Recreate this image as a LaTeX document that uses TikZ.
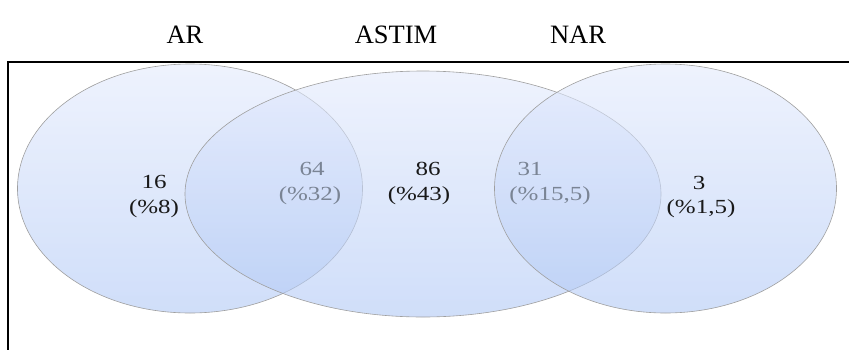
\documentclass[tikz,border=0pt]{standalone}
\usepackage{fontspec}
\setmainfont{Liberation Serif}
\begin{document}
\begin{tikzpicture}[x=1pt,y=-1pt,
  setname/.style={font=\fontsize{26.5}{30}\selectfont, inner sep=0pt},
  count/.style={font=\fontsize{20}{26}\selectfont, inner sep=0pt, xscale=1.25, text=black!90},
  shared/.style={count, text=sharedtext},
  blob/.style={draw=gray!75, line width=0.6pt, top color=venntop, bottom color=vennbot, fill opacity=0.6, draw opacity=1}
]
\definecolor{venntop}{HTML}{E3EAFC}
\definecolor{vennbot}{HTML}{B0C8F5}
\definecolor{sharedtext}{HTML}{7A8494}
\useasboundingbox (0,0) rectangle (849,349);
\begin{scope}
\clip (0,0) rectangle (849,349);
% outer frame (only top and left edges fall inside the page)
\draw[line width=2.2pt] (8,62) rectangle (900,400);
% the three sets
\shade[blob] (190,188.5) ellipse [x radius=172.5, y radius=124.5];
\shade[blob] (423,194) ellipse [x radius=238, y radius=123];
\shade[blob] (665.5,188.5) ellipse [x radius=171, y radius=124.5];
\end{scope}
% set titles
\node[setname] (ar) at (185,35) {AR};
\node[setname] (astim) at (396,35) {ASTIM};
\node[setname] (nar) at (578,35) {NAR};
% region counts
\node[count] (c16) at (154,182) {16};
\node[count] (p16) at (154,209) {(\%8)};
\node[shared] (c64) at (312,169) {64};
\node[shared] (p64) at (310,196) {(\%32)};
\node[count] (c86) at (428,169) {86};
\node[count] (p86) at (419,196) {(\%43)};
\node[shared] (c31) at (530,169) {31};
\node[shared] (p31) at (550,196) {(\%15,5)};
\node[count] (c3) at (699,183) {3};
\node[count] (p3) at (701,209) {(\%1,5)};
\end{tikzpicture}
\end{document}
